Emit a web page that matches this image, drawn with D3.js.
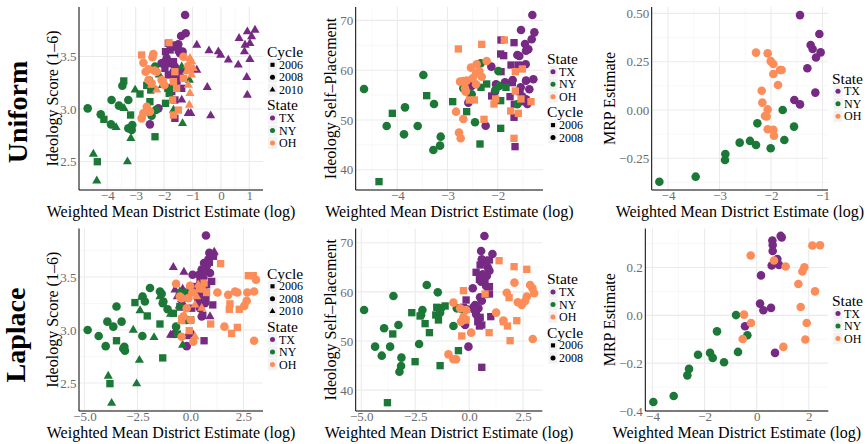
<!DOCTYPE html>
<html><head><meta charset="utf-8">
<script src="https://cdn.jsdelivr.net/npm/d3@7"></script>
<style>body{margin:0;background:#fff}svg{display:block}text{font-family:"Liberation Serif","Times New Roman",serif}</style>
</head><body><svg id="c" width="867" height="444"></svg>
<script>
// ---------- DATA: [x, y, cycle] ----------
// Uniform / Ideology Score
const uniScoreTX = [
[-1.26,3.895,2008],[-1.40,3.695,2008],[-1.24,3.721,2008],[-1.50,3.616,2008],[-1.35,3.546,2008],[-1.67,3.594,2008],[-1.44,3.530,2008],[-2.03,3.441,2008],[-2.09,3.435,2008],[-1.91,3.482,2008],[-1.79,3.435,2008],[-1.67,3.355,2008],[-1.59,3.308,2008],[-1.38,3.371,2008],[-1.56,3.260,2008],[-2.20,3.006,2008],[-2.50,2.854,2008],[-1.73,3.206,2008],[-1.62,3.403,2008],
[-1.85,3.625,2006],[-1.95,3.546,2006],[-1.79,3.562,2006],[-1.67,3.609,2006],[-1.50,3.562,2006],[-1.91,3.451,2006],[-1.67,3.451,2006],[-1.85,3.324,2006],[-1.67,3.292,2006],[-1.56,3.213,2006],[-1.73,3.165,2006],[-1.62,3.086,2006],[-1.62,2.911,2006],[-1.38,3.197,2006],[-1.44,3.324,2006],[-1.97,3.387,2006],
[-0.85,3.609,2010],[-0.42,3.555,2010],[-0.09,3.546,2010],[-0.01,3.514,2010],[0.26,3.467,2010],[0.61,3.419,2010],[0.64,3.673,2010],[0.93,3.736,2010],[1.20,3.752,2010],[1.08,3.689,2010],[0.85,3.609,2010],[1.02,3.625,2010],[0.83,3.546,2010],[1.02,3.473,2010],[0.91,3.302,2010],[0.93,3.133,2010],[-0.48,3.206,2010],[-0.36,2.936,2010],[-1.15,2.959,2010],[-1.06,2.959,2010],[-0.85,3.371,2010],[-1.38,3.086,2010]];
const uniScoreNY = [
[-4.69,3.006,2008],[-4.23,2.949,2008],[-3.87,2.854,2008],[-3.85,3.086,2008],[-3.59,3.032,2008],[-3.26,3.086,2008],[-3.26,2.816,2008],[-3.14,2.800,2008],[-3.12,2.848,2008],[-3.47,3.222,2008],[-2.53,3.273,2008],[-2.32,3.403,2008],[-2.44,2.936,2008],[-2.29,2.990,2008],
[-3.42,3.267,2006],[-4.12,2.902,2006],[-3.18,2.943,2006],[-2.85,3.143,2006],[-2.32,2.736,2006],[-4.35,2.498,2006],[-2.61,3.225,2006],[-2.47,3.181,2006],[-1.95,3.054,2006],[-1.82,3.149,2006],[-2.50,3.070,2006],[-1.87,3.197,2006],
[-4.49,2.571,2010],[-4.37,2.317,2010],[-3.29,2.498,2010],[-3.17,2.721,2010],[-3.02,3.181,2010],[-3.41,3.006,2010],[-3.69,2.825,2010],[-2.36,3.197,2010],[-2.06,3.225,2010],[-1.73,3.197,2010],[-1.67,2.990,2010],[-1.38,3.403,2010],[-1.35,2.863,2010],[-1.11,3.276,2010],[-2.17,3.324,2010]];
const uniScoreOH = [
[-2.73,3.441,2008],[-2.38,3.524,2008],[-2.41,3.492,2008],[-2.65,3.355,2008],[-2.55,3.378,2008],[-2.34,3.365,2008],[-2.55,3.276,2008],[-2.44,3.244,2008],[-2.73,2.959,2008],[-2.61,3.022,2008],[-2.79,2.911,2008],[-2.50,2.975,2008],[-2.26,3.355,2008],[-2.09,3.276,2008],[-1.99,3.228,2008],[-1.32,3.498,2008],
[-2.79,3.514,2006],[-1.83,3.632,2006],[-1.67,3.260,2006],[-1.62,3.355,2006],[-1.56,3.197,2006],[-1.50,2.990,2006],[-1.67,2.943,2006],[-1.70,3.086,2006],[-1.32,3.292,2006],[-1.15,3.403,2006],[-2.03,3.260,2006],
[-1.09,3.482,2010],[-1.03,3.451,2010],[-1.17,3.419,2010],[-1.09,3.371,2010],[-0.97,3.387,2010],[-1.21,3.355,2010],[-1.15,3.228,2010],[-1.11,3.038,2010],[-1.09,3.149,2010],[-1.03,3.324,2010],[-2.44,3.228,2010],[-2.26,3.181,2010]];

// Uniform / Self-Placement
const uniSelfTX = [
[-1.310,71.08,2008],[-1.536,68.07,2008],[-1.270,67.60,2008],[-1.323,66.20,2008],[-1.456,65.26,2008],[-1.390,64.19,2008],[-1.436,63.92,2008],[-1.569,62.85,2008],[-1.609,63.05,2008],[-1.443,61.18,2008],[-2.127,60.71,2008],[-2.034,57.16,2008],[-1.855,57.56,2008],[-1.702,58.03,2008],[-1.436,57.90,2008],[-1.542,56.56,2008],[-1.370,56.16,2008],[-1.290,58.17,2008],[-1.509,54.69,2008],[-1.436,54.15,2008],[-1.410,53.21,2008],[-2.054,55.69,2008],[-2.240,48.86,2008],[-2.585,53.48,2008],[-2.519,56.83,2008],
[-1.934,66.06,2006],[-1.675,65.53,2006],[-1.941,63.25,2006],[-1.881,62.92,2006],[-1.735,61.04,2006],[-1.589,61.04,2006],[-1.934,59.71,2006],[-1.709,57.50,2006],[-1.755,54.69,2006],[-2.120,54.82,2006],[-1.669,53.15,2006],[-1.675,50.54,2006],[-1.655,44.65,2006],[-1.489,53.68,2006],[-1.556,55.69,2006]];
const uniSelfNY = [
[-4.663,56.22,2008],[-3.481,59.04,2008],[-2.339,61.38,2008],[-1.987,59.84,2008],[-4.212,48.80,2008],[-3.847,52.54,2008],[-3.269,53.21,2008],[-3.594,48.80,2008],[-3.867,47.12,2008],[-3.136,46.65,2008],[-3.282,43.98,2008],[-3.149,44.85,2008],[-2.452,49.53,2008],[-2.519,55.15,2008],[-2.685,56.36,2008],[-2.047,56.02,2008],[-1.967,56.83,2008],[-1.609,53.15,2008],
[-4.365,37.62,2006],[-4.099,51.34,2006],[-3.415,54.89,2006],[-2.897,53.68,2006],[-2.618,51.67,2006],[-2.353,45.18,2006],[-2.333,56.56,2006],[-2.220,57.23,2006],[-1.941,53.88,2006],[-1.941,48.33,2006],[-1.835,56.56,2006],[-2.532,54.89,2006]];
const uniSelfOH = [
[-2.419,61.18,2008],[-2.532,60.51,2008],[-2.366,59.84,2008],[-2.319,58.70,2008],[-2.499,58.37,2008],[-2.685,57.83,2008],[-2.751,57.70,2008],[-2.618,57.90,2008],[-2.432,57.16,2008],[-2.220,61.85,2008],[-2.651,56.36,2008],[-2.638,55.69,2008],[-2.831,51.67,2008],[-2.685,50.20,2008],[-2.771,47.46,2008],[-2.738,46.32,2008],[-2.432,59.37,2008],
[-2.784,64.26,2006],[-2.319,65.19,2006],[-1.868,66.06,2006],[-2.565,54.02,2006],[-2.465,54.02,2006],[-2.273,50.13,2006],[-2.074,53.21,2006],[-2.041,54.22,2006],[-1.675,46.32,2006],[-1.649,59.71,2006],[-1.509,60.24,2006],[-1.589,51.34,2006],[-1.742,51.81,2006],[-1.649,55.82,2006],[-1.536,54.22,2006],[-1.337,53.68,2006]];

// Uniform / MRP
const uniMrpTX = [[-1.437,0.491],[-1.061,0.393],[-1.230,0.336],[-1.191,0.316],[-1.036,0.298],[-1.126,0.272],[-1.294,0.216],[-1.139,0.090],[-1.547,0.052],[-1.437,0.029]];
const uniMrpNY = [[-4.168,-0.371],[-3.463,-0.345],[-2.887,-0.228],[-2.893,-0.259],[-2.608,-0.169],[-2.408,-0.160],[-2.291,-0.181],[-2.265,-0.069],[-2.006,-0.198],[-1.773,0.0],[-1.553,-0.086],[-1.741,-0.155]];
const uniMrpOH = [[-2.291,0.297],[-2.065,0.293],[-2.006,0.253],[-1.955,0.238],[-1.825,0.207],[-1.793,0.207],[-1.955,0.186],[-1.864,0.129],[-2.181,0.100],[-2.168,0.038],[-2.065,0.003],[-2.117,-0.031],[-2.084,-0.034],[-2.065,-0.100],[-1.955,-0.103],[-1.942,-0.133]];

// Laplace / Ideology Score
const lapScoreTX = [
[0.73,3.892,2008],[0.89,3.728,2008],[1.08,3.712,2008],[0.84,3.665,2008],[0.64,3.633,2008],[0.76,3.601,2008],[0.53,3.570,2008],[0.92,3.538,2008],[0.40,3.522,2008],[0.61,3.491,2008],[0.10,3.522,2008],[0.45,3.411,2008],[0.64,3.364,2008],[0.37,3.285,2008],[0.68,3.253,2008],[0.45,3.206,2008],[-0.18,2.848,2008],[0.01,2.968,2008],[-0.76,2.962,2008],[-0.37,3.228,2008],[0.53,3.127,2008],
[0.89,3.639,2006],[1.08,3.696,2006],[0.68,3.554,2006],[1.00,3.459,2006],[0.29,3.411,2006],[0.53,3.332,2006],[0.73,3.301,2006],[1.05,3.237,2006],[0.45,3.253,2006],[0.58,3.140,2006],[0.64,2.899,2006],[0.06,3.206,2006],[0.76,3.427,2006],[0.45,3.475,2006],[-0.02,3.380,2006],
[1.12,3.737,2010],[0.95,3.703,2010],[-0.81,3.592,2010],[-0.31,3.547,2010],[-0.73,3.380,2010],[-0.37,3.386,2010],[-0.62,3.316,2010],[-0.53,3.228,2010],[-0.42,3.206,2010],[0.92,3.127,2010],[-0.94,2.953,2010],[-0.81,2.953,2010],[-0.18,2.937,2010],[0.45,3.459,2010],[0.29,3.348,2010],[-0.42,3.291,2010]];
const lapScoreNY = [
[-4.85,3.000,2008],[-4.33,2.943,2008],[-4.00,2.848,2008],[-3.92,3.079,2008],[-3.64,3.032,2008],[-3.49,3.222,2008],[-3.25,3.079,2008],[-3.12,2.842,2008],[-3.09,2.804,2008],[-3.17,2.826,2008],[-2.26,3.316,2008],[-2.15,3.269,2008],[-2.27,2.943,2008],[-1.91,3.396,2008],[-1.44,3.364,2008],[-1.28,3.269,2008],[-1.31,3.253,2008],[-1.08,3.196,2008],[-0.68,3.032,2008],[-0.18,3.095,2008],[-1.36,3.342,2008],
[-2.62,3.259,2006],[-2.04,3.133,2006],[-3.49,2.899,2006],[-3.80,2.494,2006],[-1.44,3.057,2006],[-1.31,2.737,2006],[-0.23,3.348,2006],[0.01,3.095,2006],[-0.62,2.962,2006],[-0.81,3.158,2006],[-0.50,3.222,2006],
[-3.88,2.566,2010],[-3.72,2.310,2010],[-2.54,2.494,2010],[-2.41,2.715,2010],[-2.70,3.000,2010],[-2.38,3.184,2010],[-1.72,2.930,2010],[-1.44,3.316,2010],[-0.94,3.149,2010],[-0.37,2.858,2010],[-2.30,3.310,2010],[-0.50,3.364,2010],[-0.06,3.364,2010],[-0.26,3.354,2010]];
const lapScoreOH = [
[-0.68,3.437,2008],[-0.02,3.418,2008],[0.09,3.354,2008],[-0.10,3.301,2008],[-0.42,3.301,2008],[-0.18,3.206,2008],[0.01,3.095,2008],[0.13,2.889,2008],[-0.42,2.937,2008],[-0.50,3.316,2008],[1.27,3.354,2008],[1.78,3.332,2008],[2.10,3.364,2008],[2.21,3.354,2008],[2.68,3.354,2008],[2.65,3.275,2008],[2.54,3.228,2008],[3.00,3.364,2008],[3.09,3.475,2008],[1.60,3.032,2008],[3.00,2.899,2008],[-0.34,3.127,2008],
[1.42,3.627,2006],[2.73,3.513,2006],[2.96,3.513,2006],[1.86,3.247,2006],[1.83,3.196,2006],[2.30,3.196,2006],[1.94,2.968,2006],[2.21,3.025,2006],[0.95,3.057,2006],[-0.42,3.104,2006],[-0.06,2.994,2006],[0.76,3.354,2006],[0.42,3.396,2006],[0.64,3.443,2006],
[0.21,2.937,2010],[-0.42,3.079,2010],[0.53,3.206,2010],[0.37,3.427,2010],[0.45,3.380,2010],[0.64,3.380,2010],[0.29,3.316,2010],[0.21,3.237,2010],[-0.30,3.140,2010]];

// Laplace / Self-Placement
const lapSelfTX = [
[0.711,71.38,2008],[0.557,68.33,2008],[1.082,67.72,2008],[0.588,66.63,2008],[0.819,66.29,2008],[0.866,65.00,2008],[0.943,64.32,2008],[0.634,63.58,2008],[0.819,63.24,2008],[0.711,62.22,2008],[0.557,62.08,2008],[0.789,61.20,2008],[0.170,60.73,2008],[0.510,58.89,2008],[0.588,58.21,2008],[0.278,57.33,2008],[0.201,56.86,2008],[0.433,56.65,2008],[-0.108,56.45,2008],[0.325,55.43,2008],[-0.186,53.26,2008],[-0.031,48.85,2008],[0.479,54.62,2008],[0.819,59.57,2008],
[0.510,65.48,2006],[0.711,65.95,2006],[0.943,66.50,2006],[0.325,63.99,2006],[0.479,62.56,2006],[0.943,61.07,2006],[0.943,59.57,2006],[-0.139,58.35,2006],[-0.263,56.86,2006],[0.325,56.31,2006],[0.510,54.82,2006],[0.402,53.94,2006],[0.588,53.26,2006],[0.479,53.05,2006],[1.005,54.96,2006],[0.588,44.64,2006],[0.247,56.45,2006]];
const lapSelfNY = [
[-4.870,56.31,2008],[-3.942,52.58,2008],[-4.360,48.85,2008],[-4.051,47.01,2008],[-3.664,48.85,2008],[-3.278,53.26,2008],[-3.510,59.16,2008],[-3.139,46.61,2008],[-3.154,44.91,2008],[-3.231,43.75,2008],[-2.319,49.39,2008],[-2.165,56.31,2008],[-2.226,55.30,2008],[-1.964,61.41,2008],[-1.453,59.91,2008],[-1.299,56.65,2008],[-1.345,55.77,2008],[-0.727,53.05,2008],[-0.572,56.65,2008],[-0.340,56.45,2008],
[-3.788,37.44,2006],[-3.541,51.43,2006],[-2.659,55.77,2006],[-2.505,45.79,2006],[-2.273,55.09,2006],[-2.041,53.53,2006],[-1.840,51.70,2006],[-1.546,55.30,2006],[-1.422,54.28,2006],[-1.500,56.86,2006],[-1.345,44.98,2006],[-1.113,57.13,2006],[-0.495,48.03,2006]];
const lapSelfOH = [
[-0.727,57.81,2008],[-0.417,56.65,2008],[-0.139,56.31,2008],[-0.263,54.82,2008],[-0.371,53.94,2008],[-0.186,54.41,2008],[-0.959,47.28,2008],[-0.727,46.27,2008],[-0.603,46.27,2008],[0.093,51.70,2008],[1.252,55.77,2008],[1.592,54.14,2008],[1.747,59.84,2008],[2.103,61.88,2008],[2.257,57.88,2008],[2.443,57.33,2008],[2.597,58.15,2008],[2.675,59.03,2008],[2.829,61.41,2008],[2.938,60.73,2008],[3.015,59.71,2008],[2.953,50.41,2008],
[-0.263,60.25,2006],[-0.340,51.02,2006],[0.742,59.57,2006],[0.928,51.70,2006],[1.391,66.36,2006],[2.087,65.14,2006],[2.675,64.60,2006],[1.855,58.83,2006],[1.592,53.94,2006],[1.778,53.05,2006],[1.902,50.07,2006],[2.211,54.14,2006],[-0.139,54.28,2006]];

// Laplace / MRP
const lapMrpTX = [[0.921,0.332],[0.960,0.326],[0.601,0.3125],[0.614,0.294],[0.614,0.269],[0.793,0.235],[0.576,0.208],[0.857,0.211],[0.166,0.167],[0.128,0.049],[0.256,0.021],[0.550,0.031],[-0.448,-0.046],[0.704,-0.157]];
const lapMrpNY = [[-3.967,-0.3625],[-3.186,-0.3375],[-2.662,-0.251],[-2.598,-0.224],[-2.252,-0.165],[-1.791,-0.157],[-1.689,-0.178],[-1.254,-0.196],[-1.523,-0.067],[-0.793,0.001],[-0.717,-0.153],[-0.358,-0.083]];
const lapMrpOH = [[-0.230,0.250],[0.665,0.229],[1.113,0.204],[1.830,0.201],[1.753,0.183],[1.599,0.131],[2.239,0.100],[2.137,0.292],[2.431,0.293],[1.689,0.035],[1.919,-0.032],[1.868,-0.101],[1.024,-0.132],[-0.486,0.003],[-0.218,-0.032],[-0.537,-0.099]];

// categories / labels
const states = ["TX","NY","OH"];
const stateColors = ["#762A83","#1B7837","#FC8D59"];
const cyclesAll = [2006,2008,2010];
const cyclesTwo = [2006,2008];
const rowLabels = ["Uniform","Laplace"];
const xTitle = "Weighted Mean District Estimate (log)";
const yTitles = ["Ideology Score (1–6)","Ideology Self–Placement","MRP Estimate"];

// ---------- LAYOUT ----------
const color = d3.scaleOrdinal().domain(states).range(stateColors);
const shapeOf = {2006:d3.symbolSquare, 2008:d3.symbolCircle, 2010:d3.symbolTriangle, none:d3.symbolCircle};
const sizeOf = {2006:54, 2008:58, 2010:36, none:58};
const legSize = {2006:17, 2008:20, 2010:15, none:20};

const panels = [
 {d:{TX:uniScoreTX,NY:uniScoreNY,OH:uniScoreOH}, xr:[79,263], yr:[190,7], xd:[-4.996,1.482], yd:[2.229,3.971], xt:[-4,-3,-2,-1,0,1], yt:[2.5,3,3.5], xf:"d", yf:".1f", yt0:0, ytx:57.5, leg:{x:267,y:57,kx:272.5,lx:279,groups:["cycle3","state"]}},
 {d:{TX:uniSelfTX,NY:uniSelfNY,OH:uniSelfOH}, xr:[355.7,543], yr:[190,7], xd:[-4.829,-1.098], yd:[35.94,72.69], xt:[-4,-3,-2], yt:[40,50,60,70], xf:"d", yf:"d", yt0:1, ytx:335.5, leg:{x:547,y:64,kx:553,lx:559,groups:["state","cycle2"]}},
 {d:{TX:uniMrpTX,NY:uniMrpNY,OH:uniMrpOH}, xr:[651.7,828], yr:[190,7], xd:[-4.317,-0.893], yd:[-0.414,0.533], xt:[-4,-3,-2,-1], yt:[-0.25,0,0.25,0.5], xf:"d", yf:".2f", yt0:2, ytx:614.5, leg:{x:832,y:83.5,kx:838,lx:844,groups:["state"]}},
 {d:{TX:lapScoreTX,NY:lapScoreNY,OH:lapScoreOH}, xr:[79,263], yr:[411,228.5], xd:[-5.259,3.420], yd:[2.236,3.958], xt:[-5,-2.5,0,2.5], yt:[2.5,3,3.5], xf:".1f", yf:".1f", yt0:0, ytx:57.5, leg:{x:267,y:278.5,kx:272.5,lx:279,groups:["cycle3","state"]}},
 {d:{TX:lapSelfTX,NY:lapSelfNY,OH:lapSelfOH}, xr:[355.7,542.3], yr:[411,228.5], xd:[-5.260,3.395], yd:[35.74,72.91], xt:[-5,-2.5,0,2.5], yt:[40,50,60,70], xf:".1f", yf:"d", yt0:1, ytx:335.5, leg:{x:547,y:284.3,kx:553,lx:559,groups:["state","cycle2"]}},
 {d:{TX:lapMrpTX,NY:lapMrpNY,OH:lapMrpOH}, xr:[645.3,828.3], yr:[411,228.5], xd:[-4.276,2.749], yd:[-0.4,0.363], xt:[-4,-2,0,2], yt:[-0.4,-0.2,0,0.2], xf:"d", yf:".1f", yt0:2, ytx:615, leg:{x:832,y:305.7,kx:838,lx:844,groups:["state"]}}
];

const svg = d3.select("#c");

function minorTicks(t, dom){
  const step = t[1]-t[0], out=[];
  const lo=Math.min(...dom), hi=Math.max(...dom);
  for(let v=t[0]-step/2; v<=hi; v+=step) if(v>=lo) out.push(v);
  return out;
}

panels.forEach((p,i)=>{
  const x = d3.scaleLinear().domain(p.xd).range(p.xr);
  const y = d3.scaleLinear().domain(p.yd).range(p.yr);
  const g = svg.append("g");
  const [x0,x1]=p.xr, [yb,ytop]=p.yr;
  // minor grid
  minorTicks(p.xt,p.xd).forEach(v=>g.append("line").attr("x1",x(v)).attr("x2",x(v)).attr("y1",ytop).attr("y2",yb).attr("stroke","#f3f3f3").attr("stroke-width",0.6));
  minorTicks(p.yt,p.yd).forEach(v=>g.append("line").attr("x1",x0).attr("x2",x1).attr("y1",y(v)).attr("y2",y(v)).attr("stroke","#f3f3f3").attr("stroke-width",0.6));
  // major grid
  p.xt.forEach(v=>g.append("line").attr("x1",x(v)).attr("x2",x(v)).attr("y1",ytop).attr("y2",yb).attr("stroke","#ebebeb").attr("stroke-width",1.1));
  p.yt.forEach(v=>g.append("line").attr("x1",x0).attr("x2",x1).attr("y1",y(v)).attr("y2",y(v)).attr("stroke","#ebebeb").attr("stroke-width",1.1));
  // axes via d3 axis
  const xa = d3.axisBottom(x).tickValues(p.xt).tickFormat(d3.format(p.xf)).tickSize(0).tickPadding(2);
  const ya = d3.axisLeft(y).tickValues(p.yt).tickFormat(d3.format(p.yf)).tickSize(0).tickPadding(2.5);
  const gx = g.append("g").attr("transform",`translate(0,${yb})`).call(xa);
  const gy = g.append("g").attr("transform",`translate(${x0},0)`).call(ya);
  [gx,gy].forEach(a=>{
    a.select(".domain").remove();
    a.selectAll("text").attr("font-family","Liberation Serif, serif").attr("font-size",13).attr("fill","#6b6b6b");
  });
  gx.selectAll("text").attr("dy",null).attr("y",null).attr("transform","translate(0,9.5)");
  // axis lines
  g.append("line").attr("x1",x0).attr("x2",x0).attr("y1",ytop).attr("y2",yb).attr("stroke","#000").attr("stroke-width",1);
  g.append("line").attr("x1",x0).attr("x2",x1).attr("y1",yb).attr("y2",yb).attr("stroke","#000").attr("stroke-width",1);
  // titles
  g.append("text").attr("x",(x0+x1)/2).attr("y",yb+27.3).attr("text-anchor","middle").attr("font-size",16).attr("fill","#000").text(xTitle);
  g.append("text").attr("transform",`translate(${p.ytx},${(yb+ytop)/2}) rotate(-90)`).attr("text-anchor","middle").attr("font-size",16).attr("fill","#000").text(yTitles[p.yt0]);
  // points
  states.forEach(s=>{
    p.d[s].forEach(r=>{
      const c = r.length>2 ? r[2] : "none";
      g.append("path").attr("d",d3.symbol().type(shapeOf[c]).size(sizeOf[c])())
        .attr("transform",`translate(${x(r[0])},${y(r[1])})`).attr("fill",color(s));
    });
  });
  // legend
  let ty = p.leg.y;
  const L = p.leg;
  L.groups.forEach((gr,gi)=>{
    const isState = gr==="state";
    g.append("text").attr("x",L.x).attr("y",ty).attr("font-size",15.5).attr("fill","#000").text(isState?"State":"Cycle");
    const items = isState ? states : (gr==="cycle3"?cyclesAll:cyclesTwo);
    let cy = ty+7.8;
    items.forEach(it=>{
      g.append("rect").attr("x",L.kx-4.5).attr("y",cy-5.8).attr("width",9).attr("height",11.6).attr("fill","#f2f2f2");
      const sh = isState ? "none" : it;
      g.append("path").attr("d",d3.symbol().type(shapeOf[sh]).size(legSize[sh])())
        .attr("transform",`translate(${L.kx},${cy})`).attr("fill",isState?color(it):"#000");
      g.append("text").attr("x",L.lx).attr("y",cy).attr("dy","0.34em").attr("font-size",12).attr("fill","#000").text(it);
      cy += 12.5;
    });
    ty = cy - 12.5 + 20.5;
  });
});

// row labels
svg.append("text").attr("transform","translate(27,112) rotate(-90)").attr("text-anchor","middle").attr("font-size",28).attr("font-weight","bold").attr("fill","#000").text(rowLabels[0]);
svg.append("text").attr("transform","translate(25,335) rotate(-90)").attr("text-anchor","middle").attr("font-size",28).attr("font-weight","bold").attr("fill","#000").text(rowLabels[1]);
</script></body></html>
